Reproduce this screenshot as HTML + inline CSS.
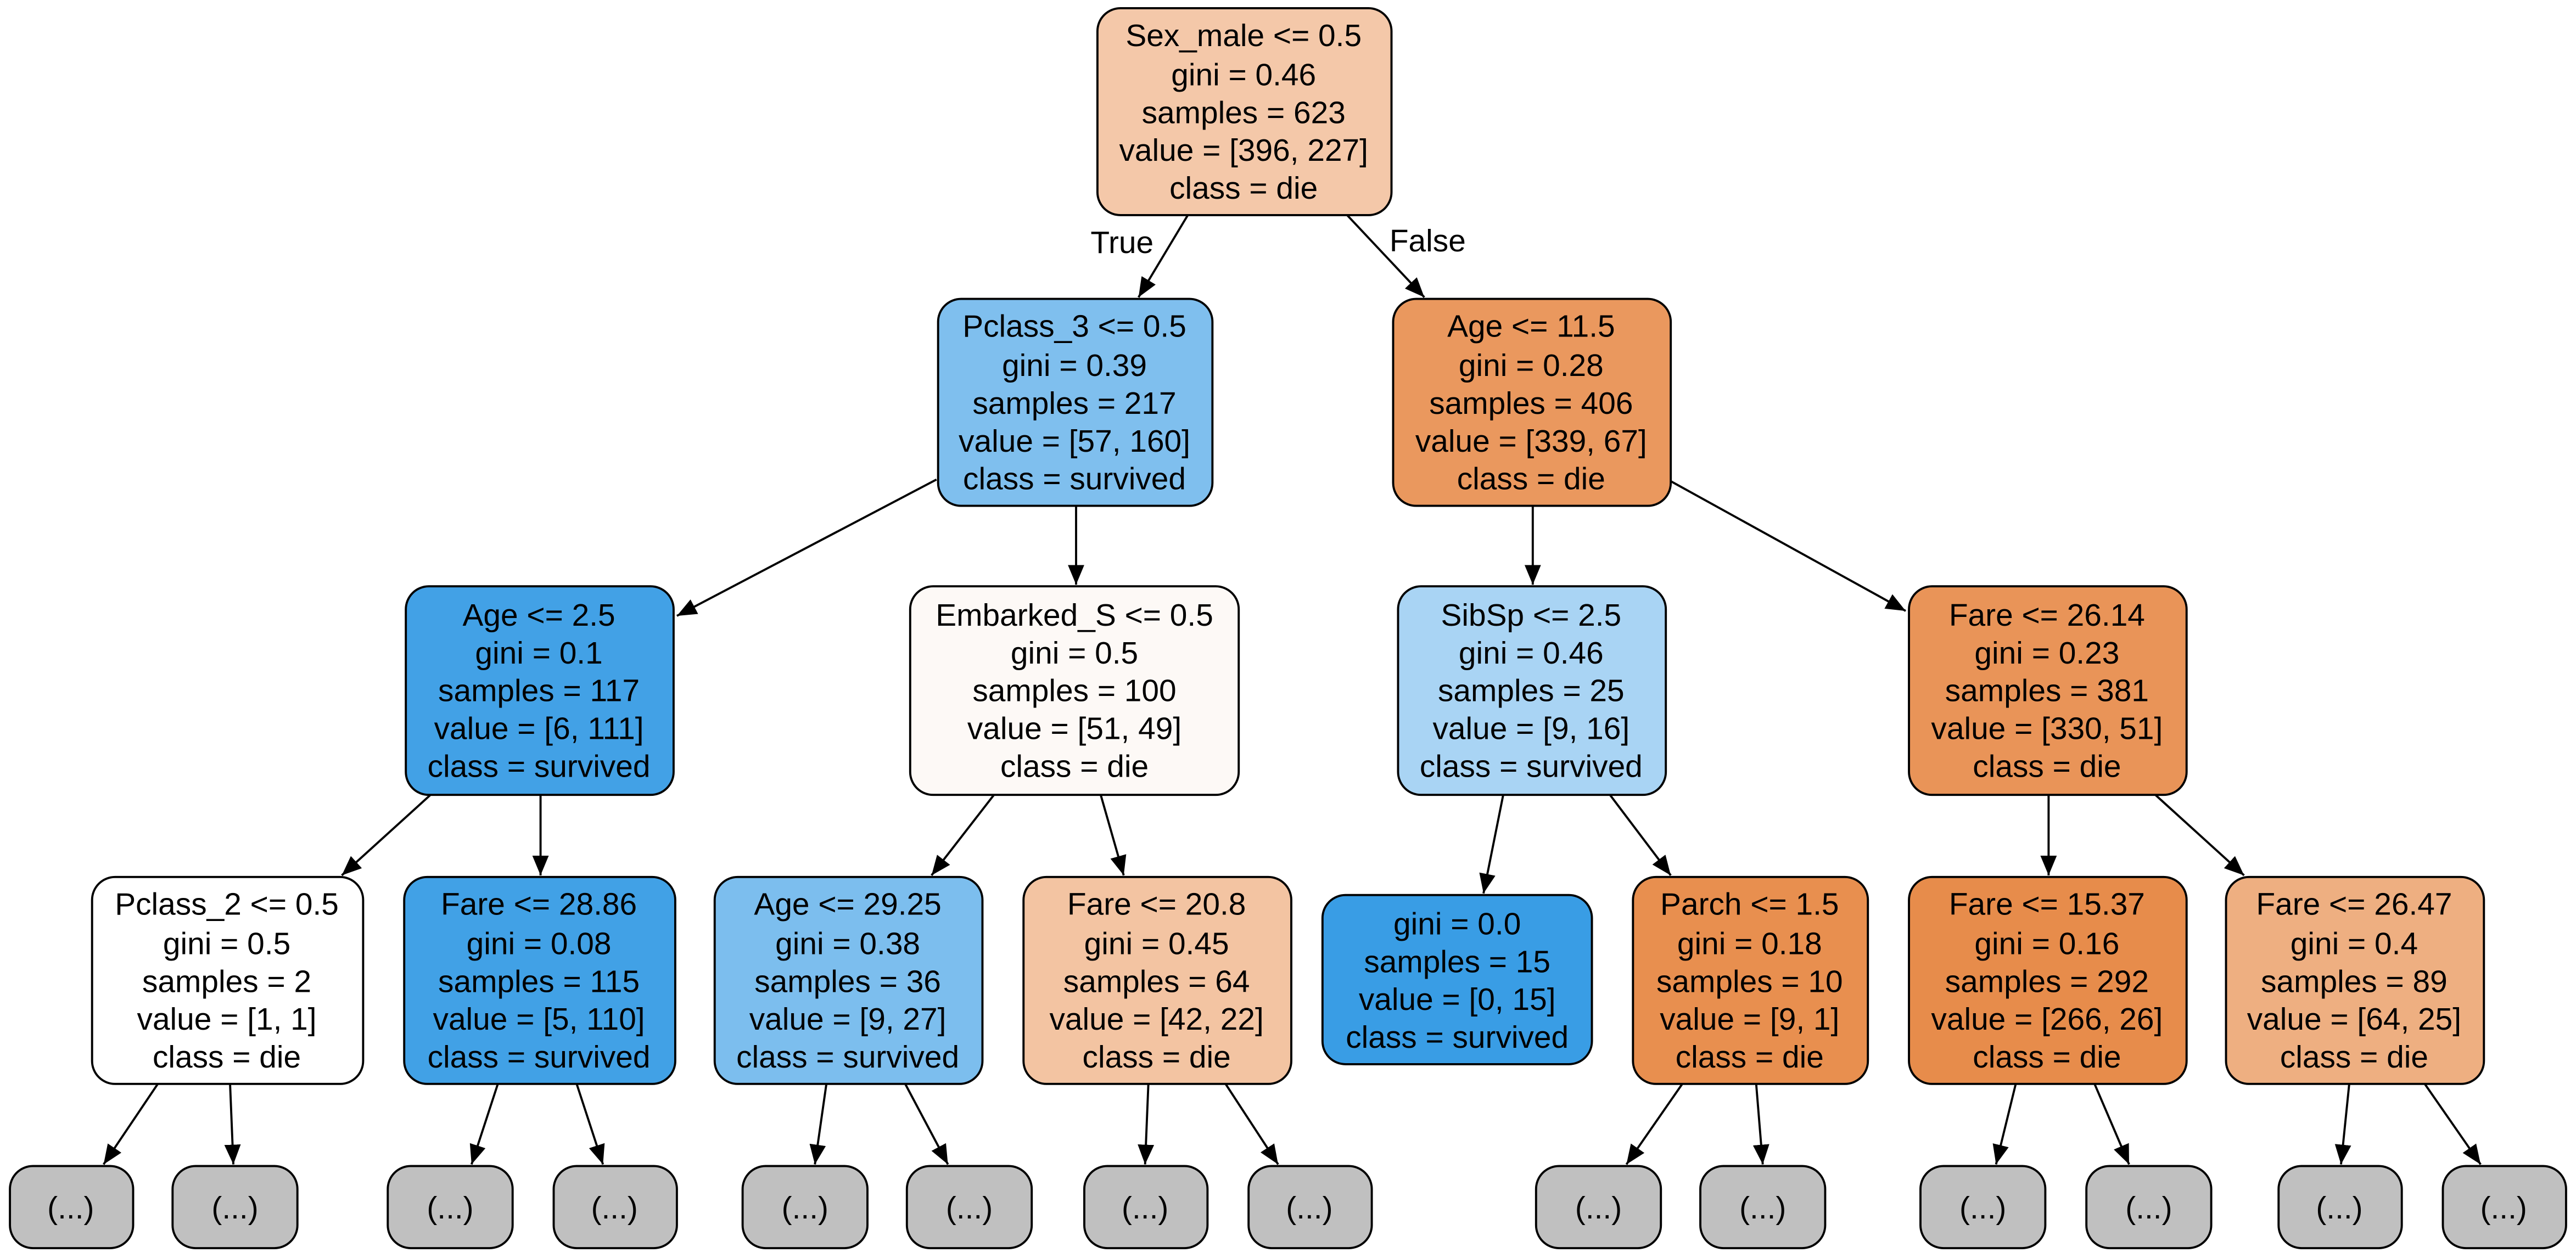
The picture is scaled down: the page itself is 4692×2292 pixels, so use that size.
<!DOCTYPE html>
<html><head><meta charset="utf-8"><style>
html,body{margin:0;padding:0;background:#fff;}
svg{display:block;}
text{font-family:"Liberation Sans",Arial,sans-serif;font-size:19px;fill:#000;text-anchor:middle;}
rect{stroke:#000;stroke-width:1.3;}
line{stroke:#000;stroke-width:1.3;}
</style></head><body>
<svg width="4692" height="2292" viewBox="0 0 1568 766" xmlns="http://www.w3.org/2000/svg">
<defs><marker id="a" viewBox="0 0 12 10" refX="12" refY="5" markerWidth="12" markerHeight="10" markerUnits="userSpaceOnUse" orient="auto"><path d="M0,0 L12,5 L0,10 z" fill="#000"/></marker></defs>
<g marker-end="url(#a)">
<line x1="723" y1="131" x2="693" y2="181"/>
<line x1="820" y1="131" x2="867" y2="181"/>
<line x1="570" y1="292" x2="412" y2="375"/>
<line x1="655" y1="308" x2="655" y2="356"/>
<line x1="933" y1="308" x2="933" y2="356"/>
<line x1="1017" y1="293" x2="1160" y2="372"/>
<line x1="262" y1="484" x2="208" y2="533"/>
<line x1="329" y1="484" x2="329" y2="533"/>
<line x1="605" y1="484" x2="567" y2="533"/>
<line x1="670" y1="484" x2="684" y2="533"/>
<line x1="915" y1="484" x2="903" y2="544"/>
<line x1="980" y1="484" x2="1017" y2="533"/>
<line x1="1247" y1="484" x2="1247" y2="533"/>
<line x1="1312" y1="484" x2="1366" y2="533"/>
<line x1="96" y1="660" x2="63" y2="709"/>
<line x1="140" y1="660" x2="142" y2="709"/>
<line x1="303" y1="660" x2="287" y2="709"/>
<line x1="351" y1="660" x2="367" y2="709"/>
<line x1="503" y1="660" x2="496" y2="709"/>
<line x1="551" y1="660" x2="577" y2="709"/>
<line x1="699" y1="660" x2="697" y2="709"/>
<line x1="746" y1="660" x2="778" y2="709"/>
<line x1="1024" y1="660" x2="990" y2="709"/>
<line x1="1069" y1="660" x2="1073" y2="709"/>
<line x1="1227" y1="660" x2="1215" y2="709"/>
<line x1="1275" y1="660" x2="1296" y2="709"/>
<line x1="1430" y1="660" x2="1425" y2="709"/>
<line x1="1476" y1="660" x2="1510" y2="709"/>
</g>
<text x="683" y="154">True</text>
<text x="869" y="153">False</text>

<rect x="668" y="5" width="179" height="126" rx="14" fill="#f4c8a9"/>
<text x="757" y="28">Sex_male &lt;= 0.5</text><text x="757" y="52">gini = 0.46</text><text x="757" y="75">samples = 623</text><text x="757" y="98">value = [396, 227]</text><text x="757" y="121">class = die</text>

<rect x="571" y="182" width="167" height="126" rx="14" fill="#7fbfee"/>
<text x="654" y="205">Pclass_3 &lt;= 0.5</text><text x="654" y="229">gini = 0.39</text><text x="654" y="252">samples = 217</text><text x="654" y="275">value = [57, 160]</text><text x="654" y="298">class = survived</text>

<rect x="848" y="182" width="169" height="126" rx="14" fill="#ea985e"/>
<text x="932" y="205">Age &lt;= 11.5</text><text x="932" y="229">gini = 0.28</text><text x="932" y="252">samples = 406</text><text x="932" y="275">value = [339, 67]</text><text x="932" y="298">class = die</text>

<rect x="247" y="357" width="163" height="127" rx="14" fill="#42a1e6"/>
<text x="328" y="381">Age &lt;= 2.5</text><text x="328" y="404">gini = 0.1</text><text x="328" y="427">samples = 117</text><text x="328" y="450">value = [6, 111]</text><text x="328" y="473">class = survived</text>

<rect x="554" y="357" width="200" height="127" rx="14" fill="#fdf9f6"/>
<text x="654" y="381">Embarked_S &lt;= 0.5</text><text x="654" y="404">gini = 0.5</text><text x="654" y="427">samples = 100</text><text x="654" y="450">value = [51, 49]</text><text x="654" y="473">class = die</text>

<rect x="851" y="357" width="163" height="127" rx="14" fill="#a9d4f4"/>
<text x="932" y="381">SibSp &lt;= 2.5</text><text x="932" y="404">gini = 0.46</text><text x="932" y="427">samples = 25</text><text x="932" y="450">value = [9, 16]</text><text x="932" y="473">class = survived</text>

<rect x="1162" y="357" width="169" height="127" rx="14" fill="#e99458"/>
<text x="1246" y="381">Fare &lt;= 26.14</text><text x="1246" y="404">gini = 0.23</text><text x="1246" y="427">samples = 381</text><text x="1246" y="450">value = [330, 51]</text><text x="1246" y="473">class = die</text>

<rect x="56" y="534" width="165" height="126" rx="14" fill="#ffffff"/>
<text x="138" y="557">Pclass_2 &lt;= 0.5</text><text x="138" y="581">gini = 0.5</text><text x="138" y="604">samples = 2</text><text x="138" y="627">value = [1, 1]</text><text x="138" y="650">class = die</text>

<rect x="246" y="534" width="165" height="126" rx="14" fill="#41a1e6"/>
<text x="328" y="557">Fare &lt;= 28.86</text><text x="328" y="581">gini = 0.08</text><text x="328" y="604">samples = 115</text><text x="328" y="627">value = [5, 110]</text><text x="328" y="650">class = survived</text>

<rect x="435" y="534" width="163" height="126" rx="14" fill="#7cbeee"/>
<text x="516" y="557">Age &lt;= 29.25</text><text x="516" y="581">gini = 0.38</text><text x="516" y="604">samples = 36</text><text x="516" y="627">value = [9, 27]</text><text x="516" y="650">class = survived</text>

<rect x="623" y="534" width="163" height="126" rx="14" fill="#f3c4a2"/>
<text x="704" y="557">Fare &lt;= 20.8</text><text x="704" y="581">gini = 0.45</text><text x="704" y="604">samples = 64</text><text x="704" y="627">value = [42, 22]</text><text x="704" y="650">class = die</text>

<rect x="805" y="545" width="164" height="103" rx="14" fill="#399de5"/>
<text x="887" y="569">gini = 0.0</text><text x="887" y="592">samples = 15</text><text x="887" y="615">value = [0, 15]</text><text x="887" y="638">class = survived</text>

<rect x="994" y="534" width="143" height="126" rx="14" fill="#e88f4f"/>
<text x="1065" y="557">Parch &lt;= 1.5</text><text x="1065" y="581">gini = 0.18</text><text x="1065" y="604">samples = 10</text><text x="1065" y="627">value = [9, 1]</text><text x="1065" y="650">class = die</text>

<rect x="1162" y="534" width="169" height="126" rx="14" fill="#e78c4b"/>
<text x="1246" y="557">Fare &lt;= 15.37</text><text x="1246" y="581">gini = 0.16</text><text x="1246" y="604">samples = 292</text><text x="1246" y="627">value = [266, 26]</text><text x="1246" y="650">class = die</text>

<rect x="1355" y="534" width="157" height="126" rx="14" fill="#eeaf81"/>
<text x="1433" y="557">Fare &lt;= 26.47</text><text x="1433" y="581">gini = 0.4</text><text x="1433" y="604">samples = 89</text><text x="1433" y="627">value = [64, 25]</text><text x="1433" y="650">class = die</text>

<g fill="#c0c0c0">
<rect x="6" y="710" width="75" height="50" rx="14"/><text x="43" y="742">(...)</text>
<rect x="105" y="710" width="76" height="50" rx="14"/><text x="143" y="742">(...)</text>
<rect x="236" y="710" width="76" height="50" rx="14"/><text x="274" y="742">(...)</text>
<rect x="337" y="710" width="75" height="50" rx="14"/><text x="374" y="742">(...)</text>
<rect x="452" y="710" width="76" height="50" rx="14"/><text x="490" y="742">(...)</text>
<rect x="552" y="710" width="76" height="50" rx="14"/><text x="590" y="742">(...)</text>
<rect x="660" y="710" width="75" height="50" rx="14"/><text x="697" y="742">(...)</text>
<rect x="760" y="710" width="75" height="50" rx="14"/><text x="797" y="742">(...)</text>
<rect x="935" y="710" width="76" height="50" rx="14"/><text x="973" y="742">(...)</text>
<rect x="1035" y="710" width="76" height="50" rx="14"/><text x="1073" y="742">(...)</text>
<rect x="1169" y="710" width="76" height="50" rx="14"/><text x="1207" y="742">(...)</text>
<rect x="1270" y="710" width="76" height="50" rx="14"/><text x="1308" y="742">(...)</text>
<rect x="1387" y="710" width="75" height="50" rx="14"/><text x="1424" y="742">(...)</text>
<rect x="1487" y="710" width="75" height="50" rx="14"/><text x="1524" y="742">(...)</text>
</g>
</svg>
</body></html>
